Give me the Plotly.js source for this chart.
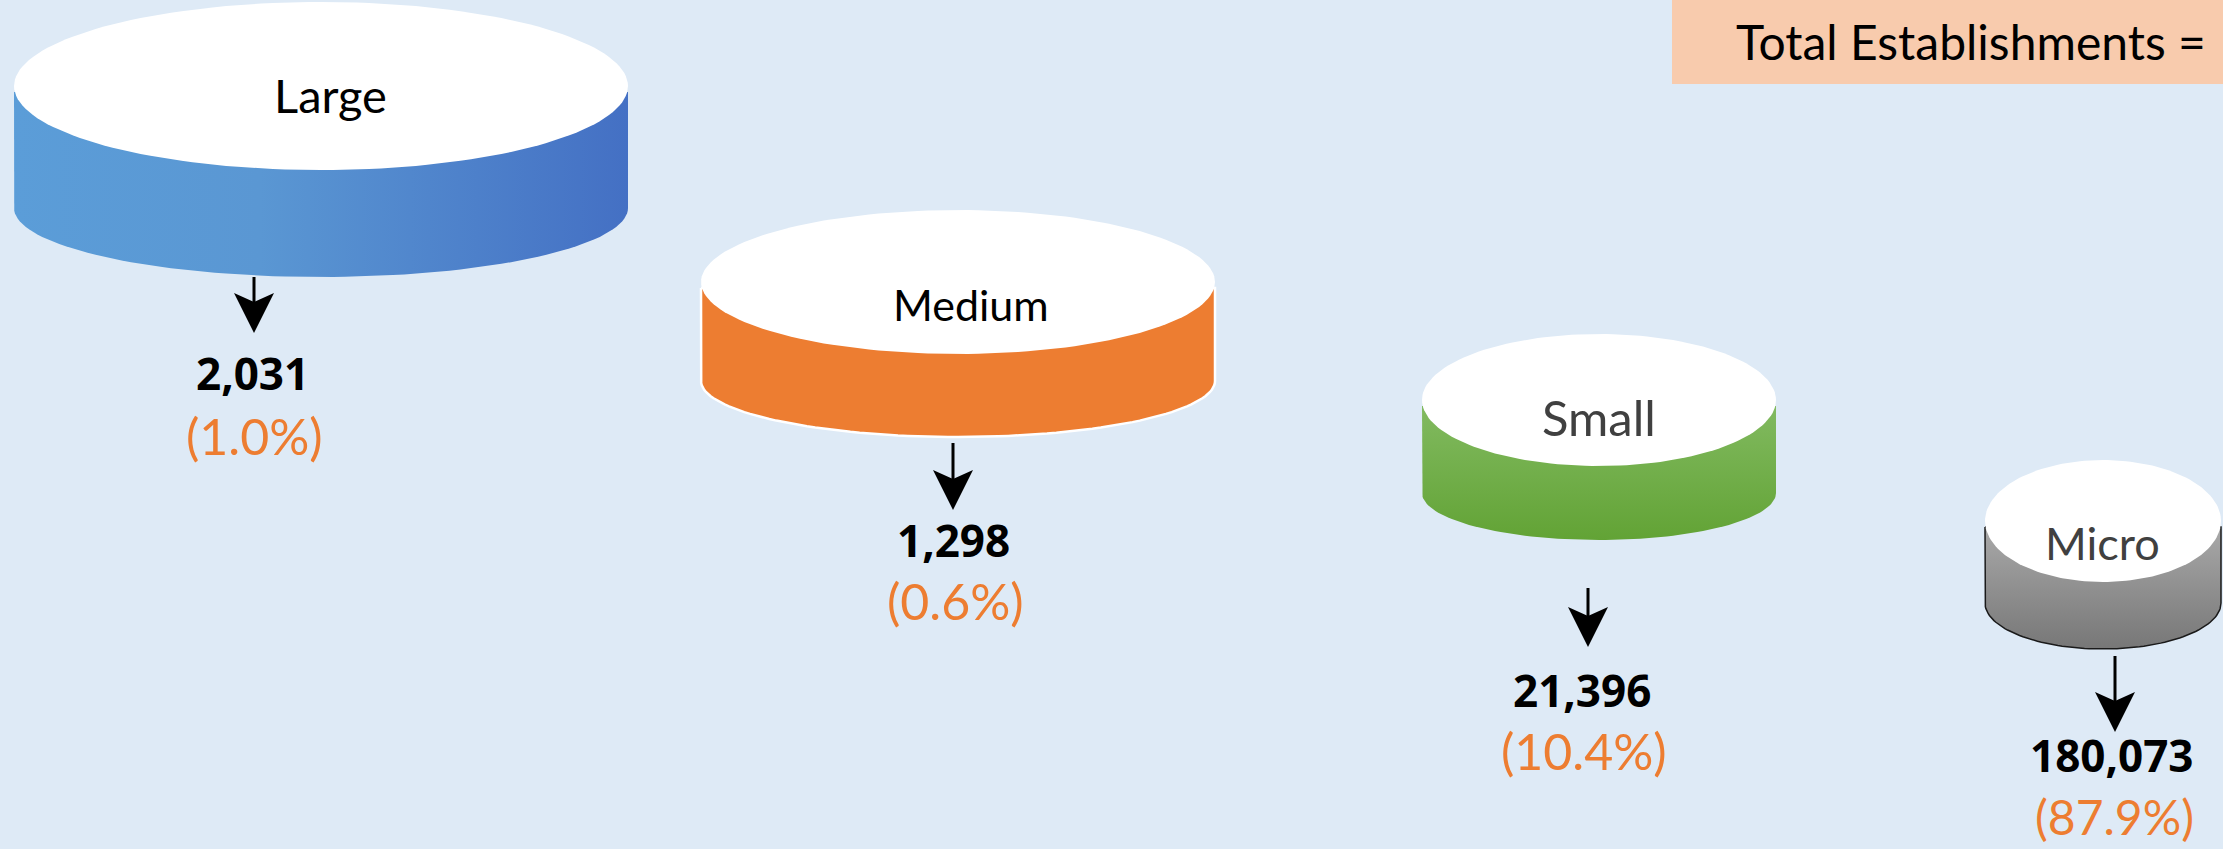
<!DOCTYPE html>
<html>
<head>
<meta charset="utf-8">
<script src="https://cdn.plot.ly/plotly-3.0.1.min.js"></script>
<style>html,body{margin:0;padding:0;background:#DEEAF6;}#chart{width:2223px;height:849px;}</style>
</head>
<body>
<div id="chart"></div>
<script>
// ---- data ----
const categories = ['Large', 'Medium', 'Small', 'Micro'];
const counts = [2031, 1298, 21396, 180073];
const shares = [1.0, 0.6, 10.4, 87.9];
const headerText = 'Total Establishments =';

// ---- layout / styling (pixel space of the canvas) ----
const W = 2223, H = 849;
const cx      = [321, 958, 1599, 2103];
const rx      = [307, 257, 177, 118];
const topCy   = [86, 282, 400, 521];
const topRy   = [84, 72, 66, 61];
const edgeBot = [208, 381, 493, 603];
const botRy   = [69, 56, 47, 46];
const arrowX  = [254, 953, 1588, 2115];
const arrowY0 = [277, 443, 588, 656];
const arrowY1 = [333, 510, 647, 732];
const numX    = [252, 953, 1582, 2112];
const numY    = [373, 540, 690, 755];
const pctY    = [436, 601, 751, 816];
const pctSize = [50, 50, 50, 48];
const labY    = [95, 304, 417, 543];
const labX    = [330, 971, 1599, 2102];
const labSize = [47, 43, 49, 45];
const labColor= ['#000000', '#000000', '#404040', '#404040'];
const bodyFill = [
  {type: 'horizontal', colorscale: [[0, '#5B9DD8'], [0.4, '#5A97D3'], [1, '#4470C4']]},
  null,
  {type: 'vertical', colorscale: [[0, '#83BB62'], [1, '#62A335']]},
  {type: 'vertical', colorscale: [[0, '#ABABAB'], [1, '#777777']]}
];
const bodySolid = ['#5A97D3', '#ED7D31', '#70AD47', '#8F8F8F'];
const bodyLine = [null, {color: '#FFFFFF', width: 2.5}, null, {color: '#1a1a1a', width: 1.5}];

const traces = [];
const shapes = [];
const annotations = [];

function fmt(n) { return n.toLocaleString('en-US'); }

categories.forEach((cat, i) => {
  // body (side + bottom half-ellipse)
  const bx = [], by = [];
  bx.push(cx[i] - rx[i]); by.push(topCy[i] + 6);
  const N = 80;
  for (let k = 0; k <= N; k++) {
    const t = Math.PI - Math.PI * k / N;
    bx.push(cx[i] + rx[i] * Math.cos(t));
    by.push(edgeBot[i] + botRy[i] * Math.sin(t));
  }
  bx.push(cx[i] + rx[i]); by.push(topCy[i] + 6);
  bx.push(cx[i] - rx[i]); by.push(topCy[i] + 6);
  const body = {
    x: bx, y: by, type: 'scatter', mode: 'lines', fill: 'toself',
    fillcolor: bodySolid[i],
    line: bodyLine[i] ? bodyLine[i] : {width: 0, color: 'rgba(0,0,0,0)'},
    hoverinfo: 'skip'
  };
  if (bodyFill[i]) {
    const g = Object.assign({}, bodyFill[i]);
    if (g.type === 'horizontal') { g.start = cx[i] - rx[i]; g.stop = cx[i] + rx[i]; }
    else { g.start = topCy[i]; g.stop = edgeBot[i] + botRy[i]; }
    body.fillgradient = g;
  }
  traces.push(body);

  // top ellipse
  const tx = [], ty = [];
  for (let k = 0; k <= 160; k++) {
    const t = 2 * Math.PI * k / 160;
    tx.push(cx[i] + rx[i] * Math.cos(t));
    ty.push(topCy[i] + topRy[i] * Math.sin(t));
  }
  traces.push({
    x: tx, y: ty, type: 'scatter', mode: 'lines', fill: 'toself',
    fillcolor: '#FFFFFF', line: {width: 0, color: 'rgba(0,0,0,0)'}, hoverinfo: 'skip'
  });

  // arrow
  const a = arrowX[i], y0 = arrowY0[i], y1 = arrowY1[i];
  shapes.push({type: 'line', xref: 'x', yref: 'y', x0: a, x1: a, y0: y0, y1: y1 - 24,
    line: {color: '#000000', width: 3}});
  shapes.push({type: 'path', xref: 'x', yref: 'y',
    path: `M ${a - 20} ${y1 - 40} L ${a} ${y1 - 31} L ${a + 20} ${y1 - 40} L ${a} ${y1} Z`,
    fillcolor: '#000000', line: {width: 0}});

  // labels
  annotations.push({x: labX[i], y: labY[i], xref: 'x', yref: 'y', text: cat, showarrow: false,
    xanchor: 'center', yanchor: 'middle',
    font: {family: 'Lato, "Open Sans", sans-serif', size: labSize[i], color: labColor[i]}});
  annotations.push({x: numX[i], y: numY[i], xref: 'x', yref: 'y', text: '<b>' + fmt(counts[i]) + '</b>',
    showarrow: false, xanchor: 'center', yanchor: 'middle', borderpad: 0,
    font: {family: '"Open Sans", Lato, sans-serif', size: 44, color: '#000000'}});
  annotations.push({x: numX[i] + 2, y: pctY[i], xref: 'x', yref: 'y', text: '(' + shares[i].toFixed(1) + '%)',
    showarrow: false, xanchor: 'center', yanchor: 'middle', borderpad: 0,
    font: {family: 'Lato, "Open Sans", sans-serif', size: pctSize[i], color: '#ED7D31'}});
});

// header box
shapes.push({type: 'rect', xref: 'x', yref: 'y', x0: 1672, x1: W, y0: 0, y1: 84,
  fillcolor: '#F8CBAD', line: {width: 0}, layer: 'below'});
annotations.push({x: 1734, y: 41, xref: 'x', yref: 'y', text: headerText, showarrow: false,
  xanchor: 'left', yanchor: 'middle',
  font: {family: 'Lato, "Open Sans", sans-serif', size: 48, color: '#000000'}});

const layout = {
  width: W, height: H,
  margin: {l: 0, r: 0, t: 0, b: 0, pad: 0},
  paper_bgcolor: '#DEEAF6', plot_bgcolor: '#DEEAF6',
  showlegend: false,
  xaxis: {range: [0, W], visible: false, fixedrange: true},
  yaxis: {range: [H, 0], visible: false, fixedrange: true},
  shapes: shapes,
  annotations: annotations
};

Plotly.newPlot('chart', traces, layout, {staticPlot: true, displayModeBar: false});
</script>
</body>
</html>
